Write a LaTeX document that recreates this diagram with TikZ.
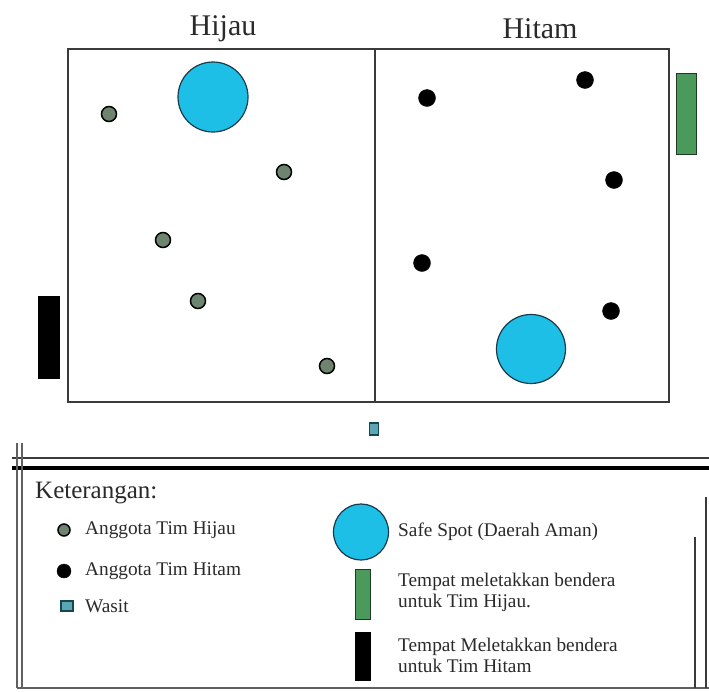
\documentclass[tikz,border=0pt]{standalone}
\usepackage{fontspec}
\usetikzlibrary{shapes.geometric}
\setmainfont{Liberation Serif}
\definecolor{safec}{HTML}{1EBFE6}
\definecolor{safeb}{HTML}{1A3A4A}
\definecolor{greenp}{HTML}{6D846F}
\definecolor{greenf}{HTML}{4B9A5C}
\definecolor{greenfb}{HTML}{1D3B22}
\definecolor{wasitc}{HTML}{5AA6B4}
\definecolor{wasitb}{HTML}{17464D}
\definecolor{linec}{HTML}{3A3A3A}
\definecolor{txtc}{HTML}{2A2A2A}
\tikzset{
  safespot/.style={circle, fill=safec, draw=safeb, line width=1.2pt, minimum size=70pt, inner sep=0pt},
  greenplayer/.style={circle, fill=greenp, draw=black, line width=1.5pt, minimum size=15pt, inner sep=0pt},
  blackplayer/.style={circle, fill=black, draw=black, minimum size=17pt, inner sep=0pt},
  greenflag/.style={rectangle, fill=greenf, draw=greenfb, line width=1pt, inner sep=0pt},
  blackflag/.style={rectangle, fill=black, draw=black, inner sep=0pt},
  wasitbox/.style={rectangle, fill=wasitc, draw=wasitb, line width=1.5pt, inner sep=0pt},
  fieldline/.style={draw=linec, line width=1.6pt},
  title/.style={text=txtc, inner sep=0pt, font=\fontsize{30}{36}\selectfont},
  legtitle/.style={text=txtc, inner sep=0pt, anchor=west, font=\fontsize{25}{30}\selectfont},
  legtext/.style={text=txtc, inner sep=0pt, anchor=west, align=left, font=\fontsize{19.3}{21}\selectfont},
  frameline/.style={draw=gray!75!black, line width=1.4pt}
}
\begin{document}
\begin{tikzpicture}[x=1pt,y=-1pt]
\useasboundingbox[fill=white] (0,0) rectangle (709,691);
% field
\draw[fieldline] (68,49) rectangle (669,402);
\coordinate (divtop) at (375,49);
\coordinate (divbot) at (375,402);
\draw[fieldline] (divtop) -- (divbot);
\node[title] (hijau) at (223,29) {Hijau};
\node[title] (hitam) at (540,29) {Hitam};
% safe spots
\node[safespot] (safeA) at (213,97) {};
\node[safespot, minimum size=69pt] (safeB) at (531,349) {};
% green players
\node[greenplayer] (g1) at (109,114) {};
\node[greenplayer] (g2) at (284,172) {};
\node[greenplayer] (g3) at (163,240) {};
\node[greenplayer] (g4) at (198,301) {};
\node[greenplayer] (g5) at (327,366) {};
% black players
\node[blackplayer] (b1) at (427,98) {};
\node[blackplayer] (b2) at (585,80) {};
\node[blackplayer] (b3) at (614,180) {};
\node[blackplayer] (b4) at (422,263) {};
\node[blackplayer] (b5) at (611,311) {};
% flags
\node[greenflag, minimum width=20pt, minimum height=81pt] (flagG) at (686,114) {};
\node[blackflag, minimum width=21pt, minimum height=82pt] (flagB) at (48.5,337) {};
% wasit
\node[wasitbox, minimum width=9pt, minimum height=12pt] (wasit) at (374,429) {};
% separator lines
\draw[draw=linec, line width=1.6pt] (12,458) -- (709,458);
\draw[draw=black, line width=4pt] (12,468) -- (709,468);
\draw[frameline] (17,443) -- (17,688);
\draw[frameline] (22,443) -- (22,688);
\draw[frameline] (17,688) -- (709,688);
\draw[draw=linec, line width=1.6pt] (706,497) -- (706,688);
\draw[draw=linec, line width=1.3pt] (695,537) -- (695,688);
% legend
\node[legtitle] (ket) at (35,493) {Keterangan:};
\node[greenplayer, minimum size=12pt] (lg) at (64,530) {};
\node[legtext] (lgt) at (85,530) {Anggota Tim Hijau};
\node[blackplayer, minimum size=14pt] (lb) at (64,571) {};
\node[legtext] (lbt) at (85,571) {Anggota Tim Hitam};
\node[wasitbox, minimum width=12pt, minimum height=10pt] (lw) at (67,606) {};
\node[legtext] (lwt) at (85,606) {Wasit};
\node[ellipse, fill=safec, draw=safeb, line width=1.2pt, inner sep=0pt, minimum width=55pt, minimum height=56pt] (ls) at (361,532) {};
\node[legtext] (lst) at (398,532) {Safe Spot (Daerah Aman)};
\node[greenflag, minimum width=15pt, minimum height=50pt] (lfg) at (362.5,594) {};
\node[legtext] (lfgt) at (398,592) {Tempat meletakkan bendera\\untuk Tim Hijau.};
\node[blackflag, minimum width=15pt, minimum height=48pt] (lfb) at (362.5,656) {};
\node[legtext] (lfbt) at (398,655) {Tempat Meletakkan bendera\\untuk Tim Hitam};
\end{tikzpicture}
\end{document}
